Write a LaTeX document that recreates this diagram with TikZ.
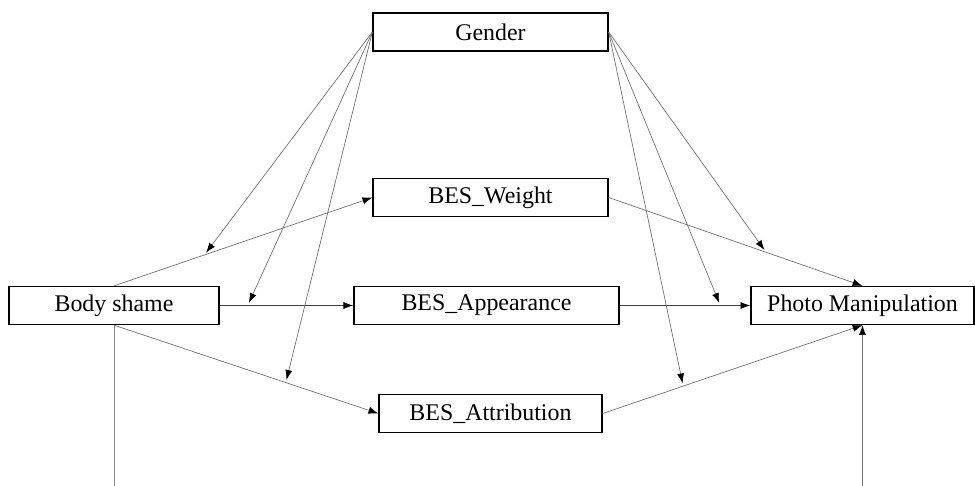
\documentclass[tikz,border=0pt]{standalone}
\usepackage{fontspec}
\setmainfont{Liberation Serif}
\usetikzlibrary{arrows.meta}

\begin{document}
\begin{tikzpicture}[x=0.025cm,y=-0.025cm,
    box/.style={draw,line width=0.9pt,inner sep=0pt,minimum height=0.95cm,font=\fontsize{17}{20}\selectfont},
    link/.style={draw=black!55,line width=0.5pt,-{Latex[length=7pt,width=5pt,color=black]}},
    plain/.style={draw=black!45,line width=0.5pt}]
        \useasboundingbox (0,0) rectangle (975,486);

        % variables
        \node[box,minimum width=5.875cm] (gen) at (490.5,32) {Gender};
        \node[box,minimum width=5.875cm] (bw) at (490.5,197.5) {BES\_Weight};
        \node[box,minimum width=5.25cm] (bs) at (114,305.5) {Body shame};
        \node[box,minimum width=6.625cm] (ba) at (486.5,305.5) {BES\_Appearance};
        \node[box,minimum width=5.575cm] (pm) at (862.5,305.5) {Photo Manipulation};
        \node[box,minimum width=5.575cm] (bat) at (490.5,413.5) {BES\_Attribution};

        % mediation paths
        \draw[link] (bs.north) -- coordinate[pos=0.35] (m1) (bw.west);
        \draw[link,draw=black!75] (bs.east) -- coordinate[pos=0.21] (m2) (ba.west);
        \draw[link] (bs.south) -- coordinate[pos=0.65] (m3) (bat.west);
        \draw[link] (bw.east) -- coordinate[pos=0.62] (m4) (pm.north);
        \draw[link,draw=black!75] (ba.east) -- coordinate[pos=0.77] (m5) (pm.west);
        \draw[link] (bat.east) -- coordinate[pos=0.31] (m6) (pm.south);

        % moderation by gender
        \draw[link,shorten >=2pt] (gen.west) -- (m1);
        \draw[link,shorten >=2pt] (gen.west) -- (m2);
        \draw[link,shorten >=2pt] (gen.west) -- (m3);
        \draw[link,shorten >=2pt] (gen.east) -- (m4);
        \draw[link,shorten >=2pt] (gen.east) -- (m5);
        \draw[link,shorten >=2pt] (gen.east) -- (m6);

        % direct path
        \coordinate (bsdown) at (114,486);
        \coordinate (pmdown) at (pm.south |- bsdown);
        \draw[plain] (bs.south) -- (bsdown);
        \draw[link] (pmdown) -- (pm.south);
    \end{tikzpicture}
\end{document}
